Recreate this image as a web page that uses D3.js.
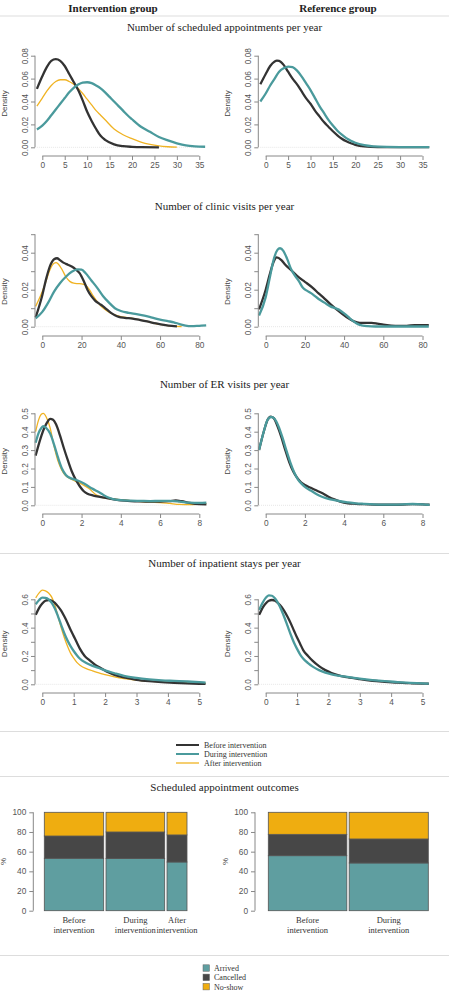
<!DOCTYPE html>
<html><head><meta charset="utf-8">
<script src="https://cdn.jsdelivr.net/npm/d3@7"></script>
<style>body{margin:0;background:#fff}svg{display:block}</style>
</head><body>
<script>
// ---------------- DATA ----------------
const groupNames = ["Intervention group", "Reference group"];
const periodNames = ["Before intervention", "During intervention", "After intervention"];
const panelTitles = ["Number of scheduled appointments per year", "Number of clinic visits per year",
  "Number of ER visits per year", "Number of inpatient stays per year"];
const barTitle = "Scheduled appointment outcomes";
const outcomeNames = ["Arrived", "Cancelled", "No-show"];

// x tick values for each density panel
const xTicks1 = [0, 5, 10, 15, 20, 25, 30, 35];
const xTicks2 = [0, 20, 40, 60, 80];
const xTicks3 = [0, 2, 4, 6, 8];
const xTicks4 = [0, 1, 2, 3, 4, 5];
// y ticks (all) and labelled ones
const yTicks1 = [0, 0.02, 0.04, 0.06, 0.08];
const yLabels1 = ["0.00", "0.02", "0.04", "0.06", "0.08"];
const yTicks2 = [0, 0.01, 0.02, 0.03, 0.04, 0.05];
const yLabels2 = ["0.00", "", "0.02", "", "0.04", ""];
const yTicks3 = [0, 0.1, 0.2, 0.3, 0.4, 0.5];
const yLabels3 = ["0.0", "0.1", "0.2", "0.3", "0.4", "0.5"];
const yTicks4 = [0, 0.1, 0.2, 0.3, 0.4, 0.5, 0.6];
const yLabels4 = ["0.0", "", "0.2", "", "0.4", "", "0.6"];

// Density curves [x, density]
// Panel 1: scheduled appointments
const sched_int_before = [[-1.2,0.051],[0,0.062],[1,0.070],[2,0.0755],[3,0.077],[4,0.0755],[5,0.071],[6,0.064],[7,0.057],[8,0.050],[9,0.041],[10,0.031],[11,0.023],[12,0.016],[13,0.010],[14,0.0065],[16,0.0026],[18,0.001],[20,0.0004],[22,0.0001],[26,0]];
const sched_int_during = [[-1.2,0.0155],[0,0.019],[1,0.023],[2,0.028],[3,0.033],[4,0.038],[5,0.043],[6,0.048],[7,0.052],[8,0.0548],[9,0.0565],[10,0.0568],[11,0.056],[12,0.054],[13,0.0515],[14,0.048],[15,0.044],[16,0.040],[17,0.036],[18,0.032],[19,0.028],[20,0.0245],[22,0.018],[24,0.0135],[26,0.009],[28,0.006],[30,0.0035],[32,0.0016],[34,0.0008],[36.3,0.0005]];
const sched_int_after = [[-1.2,0.036],[0,0.043],[1,0.049],[2,0.054],[3,0.0575],[4,0.059],[5,0.059],[6,0.0575],[7,0.055],[8,0.0515],[9,0.047],[10,0.042],[11,0.037],[12,0.032],[13,0.028],[14,0.024],[16,0.016],[18,0.011],[20,0.0075],[22,0.0045],[24,0.0025],[26,0.0012],[28,0.0005],[30,0.0001]];
const sched_ref_before = [[-1.2,0.055],[0,0.064],[1,0.071],[2,0.075],[2.5,0.0757],[3,0.0755],[4,0.072],[5,0.066],[6,0.060],[7,0.055],[8,0.049],[9,0.043],[10,0.038],[11,0.032],[12,0.027],[13,0.022],[14,0.018],[15,0.014],[16,0.0105],[17,0.0075],[18,0.0052],[19,0.0035],[20,0.0022],[22,0.0008],[25,0.0002],[30,0.0001],[36.5,0.0001]];
const sched_ref_during = [[-1.2,0.040],[0,0.047],[1,0.054],[2,0.060],[3,0.066],[4,0.069],[5,0.0705],[6,0.070],[7,0.067],[8,0.062],[9,0.056],[10,0.050],[11,0.043],[12,0.036],[13,0.030],[14,0.024],[15,0.019],[16,0.0145],[17,0.011],[18,0.008],[19,0.0058],[20,0.004],[22,0.0018],[24,0.0008],[27,0.0003],[30,0.0002],[36.5,0.0002]];
// Panel 2: clinic visits
const clinic_int_before = [[-3.4,0.005],[0,0.017],[2,0.026],[4,0.033],[6,0.0365],[7.5,0.037],[9,0.036],[11,0.0345],[13,0.0335],[15,0.0325],[17,0.031],[19,0.029],[21,0.025],[23,0.020],[25,0.0165],[27,0.014],[29,0.0125],[31,0.011],[33,0.0092],[35,0.0075],[37,0.0062],[39,0.0053],[42,0.0048],[46,0.0044],[50,0.0036],[54,0.0027],[58,0.0018],[62,0.0010],[66,0.0004],[68.6,0.0002]];
const clinic_int_during = [[-3.4,0.0045],[0,0.008],[3,0.013],[6,0.019],[9,0.0235],[12,0.027],[15,0.0297],[18,0.031],[20,0.0308],[22,0.029],[25,0.025],[28,0.021],[31,0.0165],[34,0.013],[37,0.010],[40,0.0085],[44,0.0075],[48,0.0068],[52,0.006],[56,0.0049],[60,0.0038],[64,0.003],[67,0.0024],[70,0.0014],[73,0.0006],[76,0.0003],[80,0.0005],[83.5,0.0007]];
const clinic_int_after = [[-3.4,0.011],[0,0.019],[2,0.025],[4,0.031],[6,0.0343],[7,0.0346],[8,0.034],[10,0.031],[12,0.027],[14,0.0245],[16,0.0235],[18,0.0233],[20,0.0232],[22,0.0225],[24,0.020],[26,0.0165],[28,0.0135],[30,0.011],[33,0.0085],[36,0.0068],[40,0.0055],[44,0.0048],[48,0.0041],[52,0.0033],[56,0.0022],[60,0.0012],[64,0.0006],[68,0.0002],[71,0.0001]];
const clinic_ref_before = [[-3.4,0.0094],[0,0.020],[2,0.028],[4,0.035],[5.6,0.0375],[8,0.036],[10,0.0335],[13,0.0305],[16,0.0275],[19,0.025],[21,0.0235],[24,0.021],[27,0.018],[30,0.0152],[33,0.0122],[36,0.0095],[39,0.007],[42,0.0047],[45,0.0029],[48,0.0021],[51,0.0021],[54,0.0021],[57,0.0017],[60,0.0011],[64,0.0006],[68,0.0004],[72,0.0005],[76,0.0008],[80,0.0009],[83.2,0.0008]];
const clinic_ref_during = [[-3.4,0.006],[0,0.016],[2,0.026],[4,0.036],[6,0.0415],[7.3,0.0424],[9,0.041],[11,0.0365],[13,0.031],[15,0.0275],[17,0.0245],[19,0.021],[21,0.0195],[24,0.0175],[27,0.015],[30,0.013],[33,0.011],[36,0.0098],[38,0.0088],[40,0.0072],[42,0.0054],[44,0.0035],[46,0.002],[48,0.001],[52,0.0003],[56,0.0001],[60,0.0001],[83.2,0.0001]];
// Panel 3: ER visits
const er_int_before = [[-0.34,0.27],[-0.1,0.36],[0.1,0.42],[0.3,0.46],[0.4,0.47],[0.55,0.465],[0.7,0.44],[0.9,0.38],[1.1,0.31],[1.3,0.245],[1.5,0.185],[1.7,0.14],[1.9,0.105],[2.1,0.078],[2.3,0.063],[2.6,0.053],[3.0,0.045],[3.5,0.035],[4.0,0.027],[4.5,0.023],[5.0,0.021],[5.5,0.02],[6.0,0.02],[6.5,0.023],[6.8,0.026],[7.1,0.022],[7.5,0.013],[8.0,0.006],[8.36,0.005]];
const er_int_during = [[-0.34,0.34],[-0.2,0.39],[-0.05,0.42],[0.05,0.43],[0.2,0.42],[0.4,0.39],[0.6,0.33],[0.8,0.26],[1.0,0.2],[1.2,0.165],[1.5,0.145],[1.8,0.135],[2.1,0.12],[2.4,0.10],[2.7,0.082],[3.0,0.064],[3.3,0.045],[3.6,0.034],[4.0,0.028],[4.5,0.025],[5.0,0.024],[5.5,0.023],[6.0,0.024],[6.5,0.024],[7.0,0.02],[7.5,0.014],[8.0,0.013],[8.36,0.015]];
const er_int_after = [[-0.34,0.40],[-0.2,0.46],[-0.05,0.495],[0.05,0.50],[0.2,0.48],[0.4,0.42],[0.6,0.32],[0.8,0.24],[1.0,0.19],[1.2,0.16],[1.5,0.14],[1.8,0.125],[2.1,0.11],[2.4,0.09],[2.7,0.06],[3.0,0.045],[3.5,0.035],[4.0,0.03],[4.5,0.025],[5.0,0.02],[5.5,0.017],[6.0,0.015],[6.5,0.01],[7.0,0.005],[7.5,0.004],[8.0,0.006],[8.36,0.008]];
const er_ref_before = [[-0.34,0.30],[-0.1,0.40],[0.1,0.465],[0.25,0.482],[0.4,0.475],[0.6,0.43],[0.8,0.37],[1.0,0.30],[1.2,0.235],[1.4,0.185],[1.6,0.15],[1.8,0.125],[2.0,0.11],[2.3,0.095],[2.6,0.08],[2.9,0.065],[3.2,0.047],[3.5,0.032],[3.8,0.02],[4.2,0.011],[4.6,0.008],[5.0,0.006],[5.5,0.004],[6.0,0.003],[6.5,0.003],[7.0,0.004],[7.5,0.006],[8.0,0.005],[8.36,0.003]];
const er_ref_during = [[-0.34,0.30],[-0.1,0.40],[0.1,0.465],[0.28,0.48],[0.45,0.47],[0.65,0.43],[0.85,0.37],[1.05,0.30],[1.25,0.235],[1.45,0.18],[1.65,0.14],[1.85,0.115],[2.0,0.10],[2.3,0.08],[2.6,0.06],[2.9,0.045],[3.2,0.035],[3.5,0.028],[3.8,0.022],[4.2,0.016],[4.6,0.011],[5.0,0.008],[5.5,0.005],[6.0,0.004],[6.5,0.004],[7.0,0.005],[7.5,0.007],[8.0,0.005],[8.36,0.002]];
// Panel 4: inpatient stays
const inp_int_before = [[-0.21,0.49],[-0.1,0.54],[0.0,0.57],[0.1,0.59],[0.2,0.595],[0.3,0.59],[0.4,0.575],[0.5,0.55],[0.6,0.52],[0.7,0.48],[0.8,0.435],[0.9,0.385],[1.0,0.34],[1.1,0.295],[1.2,0.25],[1.35,0.2],[1.5,0.17],[1.7,0.135],[1.9,0.11],[2.1,0.085],[2.3,0.067],[2.6,0.048],[3.0,0.032],[3.4,0.022],[3.8,0.015],[4.2,0.011],[4.6,0.007],[5.0,0.004],[5.2,0.003]];
const inp_int_during = [[-0.21,0.565],[-0.1,0.595],[0.0,0.612],[0.1,0.61],[0.2,0.6],[0.3,0.575],[0.4,0.535],[0.5,0.48],[0.6,0.42],[0.7,0.36],[0.8,0.31],[0.9,0.27],[1.0,0.235],[1.1,0.205],[1.2,0.18],[1.4,0.15],[1.6,0.13],[1.8,0.115],[2.0,0.098],[2.3,0.078],[2.6,0.06],[3.0,0.045],[3.4,0.035],[3.8,0.028],[4.2,0.024],[4.6,0.02],[5.0,0.015],[5.2,0.012]];
const inp_int_after = [[-0.21,0.61],[-0.1,0.645],[0.0,0.665],[0.1,0.66],[0.2,0.645],[0.3,0.615],[0.4,0.56],[0.5,0.48],[0.6,0.4],[0.7,0.33],[0.8,0.27],[0.9,0.22],[1.0,0.185],[1.1,0.155],[1.2,0.135],[1.4,0.11],[1.6,0.095],[1.8,0.08],[2.0,0.068],[2.3,0.052],[2.6,0.04],[3.0,0.03],[3.4,0.022],[3.8,0.018],[4.2,0.014],[4.6,0.01],[5.0,0.007],[5.2,0.006]];
const inp_ref_before = [[-0.21,0.49],[-0.1,0.54],[0.0,0.57],[0.1,0.59],[0.2,0.595],[0.3,0.59],[0.4,0.572],[0.5,0.548],[0.6,0.515],[0.7,0.475],[0.8,0.43],[0.9,0.38],[1.0,0.33],[1.1,0.285],[1.2,0.24],[1.35,0.2],[1.5,0.165],[1.7,0.128],[1.9,0.1],[2.1,0.08],[2.3,0.065],[2.6,0.05],[3.0,0.036],[3.4,0.025],[3.8,0.018],[4.2,0.012],[4.6,0.008],[5.0,0.005],[5.2,0.004]];
const inp_ref_during = [[-0.21,0.525],[-0.1,0.575],[0.0,0.61],[0.1,0.628],[0.2,0.625],[0.3,0.605],[0.4,0.57],[0.5,0.525],[0.6,0.47],[0.7,0.41],[0.8,0.35],[0.9,0.295],[1.0,0.25],[1.1,0.21],[1.2,0.18],[1.35,0.15],[1.5,0.125],[1.7,0.1],[1.9,0.082],[2.1,0.07],[2.3,0.062],[2.6,0.052],[3.0,0.04],[3.4,0.03],[3.8,0.022],[4.2,0.016],[4.6,0.01],[5.0,0.006],[5.2,0.005]];

// Bar chart: outcome percentages [Arrived, Cancelled, No-show] and relative bar widths
const barLabelsInt = ["Before|intervention", "During|intervention", "After|intervention"];
const barLabelsRef = ["Before|intervention", "During|intervention"];
const outcomesInt = [[53.3, 22.6, 24.1], [53.0, 27.0, 20.0], [49.5, 27.5, 23.0]];
const outcomesRef = [[55.9, 21.7, 22.4], [48.5, 24.4, 27.1]];
const widthsInt = [59.4, 58.7, 20.0];
const widthsRef = [78.7, 79.3];
const barYTicks = [0, 20, 40, 60, 80, 100];

// ---------------- STYLE / LAYOUT ----------------
const W = 449, H = 992;
const serif = "'Liberation Serif', 'DejaVu Serif', serif";
const sans = "'Liberation Sans', Arial, sans-serif";
const lineColors = ["#333333", "#4a9a9c", "#f0b323"];
const lineWidths = [2.3, 2.3, 1.3];
const barColors = ["#5f9ea0", "#474747", "#efad10"];
const axisColor = "#888";
const tickTextColor = "#555";

const svg = d3.select("body").append("svg").attr("width", W).attr("height", H)
  .style("font-family", serif);

// header
svg.append("text").attr("x", 113).attr("y", 12).attr("text-anchor", "middle")
  .attr("font-weight", "bold").attr("font-size", 11).attr("fill", "#222").text(groupNames[0]);
svg.append("text").attr("x", 338).attr("y", 12).attr("text-anchor", "middle")
  .attr("font-weight", "bold").attr("font-size", 11).attr("fill", "#222").text(groupNames[1]);

function hline(y) {
  svg.append("line").attr("x1", 0).attr("x2", W).attr("y1", y).attr("y2", y)
    .attr("stroke", "#ddd").attr("stroke-width", 1);
}
[16, 553.5, 731.5, 776.5, 955.5].forEach(hline);

function title(y, txt) {
  svg.append("text").attr("x", W / 2).attr("y", y).attr("text-anchor", "middle")
    .attr("font-size", 11).attr("fill", "#222").text(txt);
}

const panels = [
  { title: panelTitles[0], ty: 31, y0: 147.3, yTop: 55.7, yTopVal: 0.08, axisY: 156, xMax: 35, xTicks: xTicks1, yTicks: yTicks1, yLabels: yLabels1,
    series: [[sched_int_before, sched_int_during, sched_int_after], [sched_ref_before, sched_ref_during]] },
  { title: panelTitles[1], ty: 210, y0: 326.7, yTop: 252.7, yTopVal: 0.04, axisY: 336, xMax: 80, xTicks: xTicks2, yTicks: yTicks2, yLabels: yLabels2,
    series: [[clinic_int_before, clinic_int_during, clinic_int_after], [clinic_ref_before, clinic_ref_during]] },
  { title: panelTitles[2], ty: 388, y0: 505.3, yTop: 413.3, yTopVal: 0.5, axisY: 514, xMax: 8, xTicks: xTicks3, yTicks: yTicks3, yLabels: yLabels3,
    series: [[er_int_before, er_int_during, er_int_after], [er_ref_before, er_ref_during]] },
  { title: panelTitles[3], ty: 567, y0: 684.3, yTop: 599.3, yTopVal: 0.6, axisY: 693, xMax: 5, xTicks: xTicks4, yTicks: yTicks4, yLabels: yLabels4,
    series: [[inp_int_before, inp_int_during, inp_int_after], [inp_ref_before, inp_ref_during]] }
];
const cols = [{ yAxisX: 35, x0: 42.3, x1: 199.3 }, { yAxisX: 258.3, x0: 265.7, x1: 422.5 }];

panels.forEach(p => {
  title(p.ty, p.title);
  cols.forEach((c, ci) => {
    const x = d3.scaleLinear().domain([0, p.xMax]).range([c.x0, c.x1]);
    const y = d3.scaleLinear().domain([0, p.yTopVal]).range([p.y0, p.yTop]);
    const g = svg.append("g");
    // zero line
    const allX = p.series[ci].flat().map(d => d[0]);
    g.append("line").attr("x1", x(d3.min(allX))).attr("x2", x(d3.max(allX)))
      .attr("y1", y(0)).attr("y2", y(0)).attr("stroke", "#e6e6e6").attr("stroke-width", 1)
      .attr("stroke-dasharray", "1,1");
    const line = d3.line().x(d => x(d[0])).y(d => y(d[1])).curve(d3.curveMonotoneX);
    const drawOrder = ci === 0 ? [2, 0, 1] : [0, 1];
    drawOrder.forEach(i => {
      g.append("path").datum(p.series[ci][i]).attr("d", line).attr("fill", "none")
        .attr("stroke", lineColors[i]).attr("stroke-width", lineWidths[i]).attr("stroke-linejoin", "round");
    });
    // x axis
    const xa = d3.axisBottom(x).tickValues(p.xTicks).tickSize(4).tickPadding(2).tickFormat(d3.format("d"));
    const gx = g.append("g").attr("transform", `translate(0,${p.axisY})`).call(xa);
    gx.select(".domain").attr("d", `M${x(p.xTicks[0])},0H${x(p.xTicks[p.xTicks.length - 1])}`);
    // y axis
    const ya = d3.axisLeft(y).tickValues(p.yTicks).tickSize(4).tickPadding(3)
      .tickFormat((d, i) => p.yLabels[i]);
    const gy = g.append("g").attr("transform", `translate(${c.yAxisX},0)`).call(ya);
    gy.select(".domain").attr("d", `M0,${y(p.yTicks[0])}V${y(p.yTicks[p.yTicks.length - 1])}`);
    gy.selectAll(".tick text").attr("transform", "rotate(-90)").attr("x", 0).attr("y", -7)
      .attr("text-anchor", "middle").attr("dy", 0);
    [gx, gy].forEach(a => {
      a.selectAll(".domain, .tick line").attr("stroke", axisColor);
      a.selectAll("text").attr("fill", tickTextColor).attr("font-family", sans).attr("font-size", 8.3);
    });
    // Density label
    svg.append("text").attr("transform", `translate(${c.yAxisX - 28.5},${(p.y0 + p.yTop) / 2 + 2}) rotate(-90)`)
      .attr("text-anchor", "middle").attr("font-family", sans).attr("font-size", 8)
      .attr("fill", "#444").text("Density");
  });
});

// line legend
periodNames.forEach((n, i) => {
  const yy = 745 + i * 9;
  svg.append("line").attr("x1", 176).attr("x2", 199).attr("y1", yy).attr("y2", yy)
    .attr("stroke", lineColors[i]).attr("stroke-width", i === 2 ? 1.3 : 2);
  svg.append("text").attr("x", 204).attr("y", yy + 2.8).attr("font-size", 8).attr("fill", "#333").text(n);
});

// bar charts
title(791, barTitle);
const barCols = [
  { yAxisX: 33.3, x0: 44.3, x1: 187, labels: barLabelsInt, data: outcomesInt, widths: widthsInt },
  { yAxisX: 255, x0: 268.3, x1: 428.3, labels: barLabelsRef, data: outcomesRef, widths: widthsRef }
];
const gap = 2.3;
barCols.forEach(bc => {
  const g = svg.append("g");
  const y = d3.scaleLinear().domain([0, 100]).range([910.7, 812.3]);
  const n = bc.widths.length;
  const total = d3.sum(bc.widths);
  const wx = d3.scaleLinear().domain([0, total]).range([0, bc.x1 - bc.x0 - gap * (n - 1)]);
  let cum = 0;
  bc.widths.forEach((w, i) => {
    const left = bc.x0 + wx(cum) + gap * i;
    const bw = wx(w);
    cum += w;
    let base = 0;
    bc.data[i].forEach((v, k) => {
      g.append("rect").attr("x", left).attr("width", bw)
        .attr("y", y(base + v)).attr("height", y(base) - y(base + v))
        .attr("fill", barColors[k]).attr("stroke", "#555").attr("stroke-width", 0.8);
      base += v;
    });
    const lbl = bc.labels[i].split("|");
    lbl.forEach((t, j) => {
      g.append("text").attr("x", left + bw / 2).attr("y", 923 + j * 9.5).attr("text-anchor", "middle")
        .attr("font-size", 8.5).attr("fill", "#333").text(t);
    });
  });
  const ya = d3.axisLeft(y).tickValues(barYTicks).tickSize(4).tickPadding(3);
  const gy = g.append("g").attr("transform", `translate(${bc.yAxisX},0)`).call(ya);
  gy.select(".domain").attr("d", `M0,${y(0)}V${y(100)}`);
  gy.selectAll(".domain, .tick line").attr("stroke", axisColor);
  gy.selectAll("text").attr("fill", tickTextColor).attr("font-family", sans).attr("font-size", 8.3);
  svg.append("text").attr("transform", `translate(${bc.yAxisX - 27},${y(50)}) rotate(-90)`)
    .attr("text-anchor", "middle").attr("font-family", sans).attr("font-size", 8)
    .attr("fill", "#444").text("%");
});

// outcome legend
outcomeNames.forEach((n, i) => {
  const yy = 968.3 + i * 9.3;
  svg.append("rect").attr("x", 203).attr("y", yy - 3.5).attr("width", 6.5).attr("height", 6.5)
    .attr("fill", barColors[i]).attr("stroke", "#666").attr("stroke-width", 0.5);
  svg.append("text").attr("x", 214).attr("y", yy + 2.8).attr("font-size", 8).attr("fill", "#333").text(n);
});
</script>
</body></html>
